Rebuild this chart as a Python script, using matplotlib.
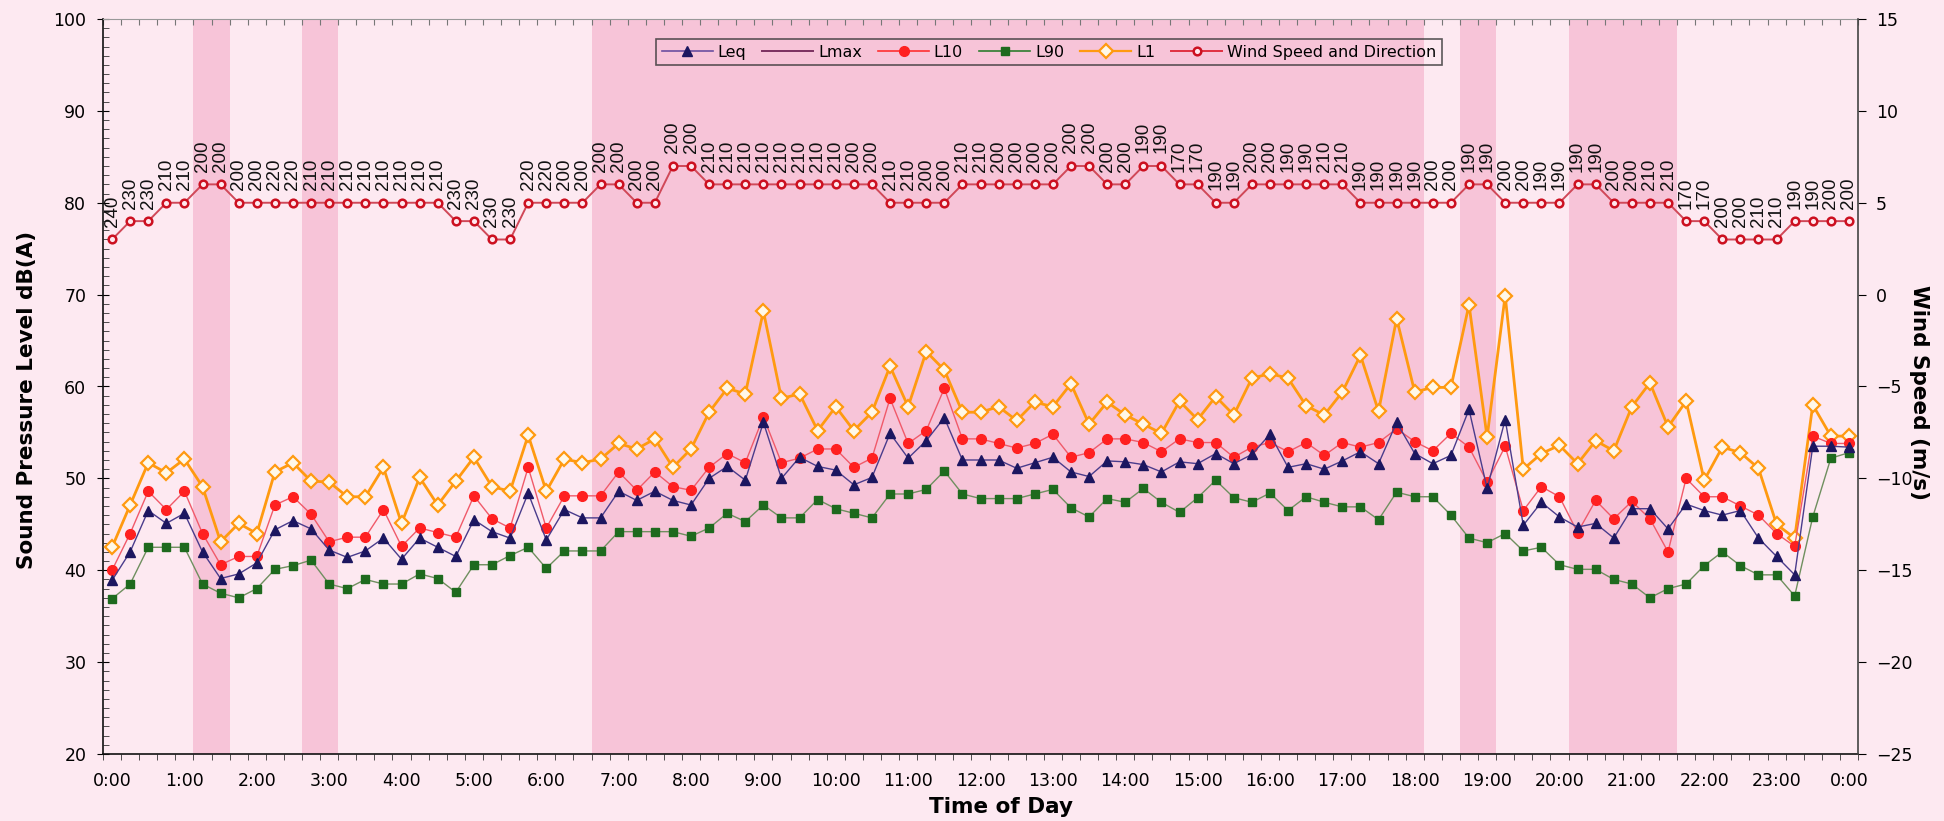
import numpy as np
import matplotlib
matplotlib.use("Agg")
import matplotlib.pyplot as plt

# 15-minute intervals, 0:00 .. 24:00 (97 points)
tick_labels = ["%d:00" % h for h in range(24)] + ["0:00"]

leq = [38.9, 42.0, 46.5, 45.1, 46.2, 42.0, 39.1, 39.6, 40.8, 44.4, 45.4, 44.5, 42.2, 41.4, 42.1, 43.5,
       41.2, 43.5, 42.5, 41.5, 45.5, 44.2, 43.5, 48.4, 43.3, 46.6, 45.7, 45.7, 48.6, 47.6, 48.6, 47.6,
       47.1, 50.0, 51.3, 49.8, 56.1, 50.0, 52.3, 51.3, 50.9, 49.3, 50.1, 54.9, 52.2, 54.1, 56.6, 52.0,
       52.0, 52.0, 51.1, 51.7, 52.3, 50.7, 50.2, 51.9, 51.8, 51.5, 50.7, 51.8, 51.6, 52.7, 51.6, 52.6,
       54.8, 51.2, 51.6, 51.0, 51.9, 52.9, 51.6, 56.1, 52.7, 51.6, 52.5, 57.5, 48.9, 56.4, 44.9, 47.4,
       45.8, 44.7, 45.1, 43.5, 46.7, 46.7, 44.5, 47.2, 46.5, 46.0, 46.5, 43.5, 41.5, 39.5, 53.5, 53.5,
       53.4]
l10 = [40.0, 44.0, 48.6, 46.6, 48.6, 44.0, 40.6, 41.5, 41.5, 47.1, 48.0, 46.1, 43.1, 43.6, 43.6, 46.6,
       42.6, 44.6, 44.1, 43.6, 48.1, 45.6, 44.6, 51.2, 44.6, 48.1, 48.1, 48.1, 50.7, 48.7, 50.7, 49.1,
       48.7, 51.2, 52.7, 51.7, 56.7, 51.7, 52.2, 53.2, 53.2, 51.2, 52.2, 58.7, 53.8, 55.2, 59.8, 54.3,
       54.3, 53.8, 53.3, 53.8, 54.8, 52.3, 52.8, 54.3, 54.3, 53.9, 52.9, 54.3, 53.9, 53.9, 52.3, 53.4,
       53.9, 52.9, 53.9, 52.5, 53.9, 53.4, 53.9, 55.4, 54.0, 53.0, 54.9, 53.4, 49.6, 53.5, 46.5, 49.1,
       48.0, 44.1, 47.6, 45.6, 47.5, 45.6, 42.0, 50.0, 48.0, 48.0, 47.0, 46.0, 44.0, 42.6, 54.6, 53.8,
       53.8]
l90 = [36.9, 38.5, 42.5, 42.5, 42.5, 38.5, 37.5, 37.0, 38.0, 40.1, 40.5, 41.1, 38.5, 38.0, 39.0, 38.5,
       38.5, 39.6, 39.1, 37.6, 40.6, 40.6, 41.6, 42.5, 40.2, 42.1, 42.1, 42.1, 44.2, 44.2, 44.2, 44.2,
       43.7, 44.6, 46.2, 45.3, 47.1, 45.7, 45.7, 47.7, 46.7, 46.2, 45.7, 48.3, 48.3, 48.8, 50.8, 48.3,
       47.8, 47.8, 47.8, 48.3, 48.8, 46.8, 45.8, 47.8, 47.4, 48.9, 47.4, 46.3, 47.9, 49.8, 47.9, 47.4,
       48.4, 46.5, 48.0, 47.4, 46.9, 46.9, 45.5, 48.5, 48.0, 48.0, 46.0, 43.5, 43.0, 44.0, 42.1, 42.5,
       40.6, 40.1, 40.1, 39.0, 38.5, 37.0, 38.0, 38.5, 40.5, 42.0, 40.5, 39.5, 39.5, 37.2, 45.8, 52.2,
       52.8]
l1 = [42.5, 47.1, 51.7, 50.6, 52.1, 49.1, 43.1, 45.1, 44.0, 50.7, 51.7, 49.7, 49.6, 48.0, 48.0, 51.2,
      45.1, 50.1, 47.1, 49.7, 52.3, 49.1, 48.6, 54.7, 48.6, 52.1, 51.7, 52.1, 53.8, 53.2, 54.3, 51.2,
      53.2, 57.2, 59.8, 59.2, 68.2, 58.7, 59.2, 55.2, 57.8, 55.2, 57.2, 62.2, 57.8, 63.8, 61.8, 57.2,
      57.2, 57.8, 56.3, 58.3, 57.8, 60.3, 55.9, 58.3, 56.9, 55.9, 54.9, 58.4, 56.4, 58.9, 56.9, 60.9,
      61.4, 60.9, 57.9, 56.9, 59.4, 63.4, 57.3, 67.4, 59.4, 59.9, 59.9, 68.9, 54.5, 69.9, 51.0, 52.7,
      53.6, 51.6, 54.1, 53.0, 57.8, 60.4, 55.6, 58.4, 49.8, 53.4, 52.8, 51.1, 45.0, 43.5, 58.0, 54.6,
      54.6]
wind_speed = [3, 4, 4, 5, 5, 6, 6, 5, 5, 5, 5, 5, 5, 5, 5, 5, 5, 5, 5, 4, 4, 3, 3, 5, 5, 5, 5,
              6, 6, 5, 5, 7, 7, 6, 6, 6, 6, 6, 6, 6, 6, 6, 6, 5, 5, 5, 5, 6, 6, 6, 6, 6, 6, 7, 7,
              6, 6, 7, 7, 6, 6, 5, 5, 6, 6, 6, 6, 6, 6, 5, 5, 5, 5, 5, 5, 6, 6, 5, 5, 5, 5, 6, 6,
              5, 5, 5, 5, 4, 4, 3, 3, 3, 3, 4, 4, 4, 4]
wind_dir = [240, 230, 230, 210, 210, 200, 200, 200, 200, 220, 220, 210, 210, 210, 210, 210, 210, 210,
            210, 230, 230, 230, 230, 220, 220, 200, 200,
            200, 200, 200, 200, 200, 200, 210, 210, 210, 210, 210, 210, 210, 210, 200, 200, 210, 210,
            200, 200, 210, 210, 200, 200, 200, 200, 200, 200,
            200, 200, 190, 190, 170, 170, 190, 190, 200, 200, 190, 190, 210, 210, 190, 190, 190, 190,
            200, 200, 190, 190, 200, 200, 190, 190, 190, 190, 200, 200, 210, 210, 170, 170, 200, 200,
            210, 210, 190, 190, 200, 200]

# shaded periods (first and last interval index)
band_start = [5, 11, 27, 75, 81]
band_end = [6, 12, 72, 76, 86]

bg = "#FDE9F1"
fig = plt.figure(figsize=(19.44, 8.21), dpi=100, facecolor=bg)
ax = fig.add_axes([103 / 1944, 1 - 754 / 821, 1755 / 1944, 735 / 821])
ax.set_facecolor(bg)

x = np.arange(len(leq))
for s, e in zip(band_start, band_end):
    ax.axvspan(s - 0.5, e + 0.5, color="#F7C4D8", lw=0, zorder=0)

ax.plot(x, l90, color="#6F8F5F", lw=1.0, marker="s", ms=6, mfc="#1E6A1E", mec="#1E6A1E", zorder=3)
ax.plot(x, l1, color="#FF9A10", lw=2.0, marker="D", ms=7.5, mfc="#FFF8E8", mec="#FF9A10", mew=1.6, zorder=4)
ax.plot(x, l10, color="#F05A6A", lw=1.0, marker="o", ms=7, mfc="#FF2020", mec="#FF2020", zorder=5)
ax.plot(x, leq, color="#4A3C8C", lw=1.0, marker="^", ms=7, mfc="#1C1660", mec="#1C1660", zorder=6)

ax.set_xlim(-0.5, len(x) - 0.5)
ax.set_ylim(20, 100)
ax.set_xticks(x[::4])
ax.set_xticklabels(tick_labels)
ax.set_xticks(np.arange(-0.5, len(x), 1), minor=True)
ax.set_yticks(np.arange(20, 101, 10))
ax.set_yticks(np.arange(20, 101, 1), minor=True)
ax.tick_params(axis="x", which="major", length=0, pad=13, labelsize=12.5)
ax.tick_params(axis="x", which="minor", length=4, direction="out", color="#333333")
ax.tick_params(axis="y", which="major", length=8, direction="inout", pad=8, labelsize=12.5)
ax.tick_params(axis="y", which="minor", length=4, direction="in", color="#333333")
for side in ["left", "bottom"]:
    ax.spines[side].set_color("#111111")
    ax.spines[side].set_linewidth(1.2)
ax.spines["top"].set_color("#999999")
ax.spines["right"].set_visible(False)

top = ax.secondary_xaxis("top")
top.set_xticks(np.arange(-0.5, len(x), 1))
top.tick_params(direction="in", length=4, labeltop=False, color="#777777")
top.spines["top"].set_visible(False)

ax2 = ax.twinx()
ax2.set_ylim(-25, 15)
ax2.set_yticks(np.arange(-25, 16, 5))
ax2.tick_params(axis="y", length=6, direction="out", pad=7, labelsize=12.5)
ax2.spines["right"].set_color("#444444")
ax2.spines["right"].set_linewidth(1.2)
for side in ["left", "top", "bottom"]:
    ax2.spines[side].set_visible(False)
ax2.plot(x, wind_speed, color="#D04858", lw=1.4, marker="o", ms=5.5, mfc="#FFE8EE", mec="#CC1020",
         mew=1.8, zorder=5)
for xi, ws, wd in zip(x, wind_speed, wind_dir):
    ax2.annotate(str(wd), (xi, ws), xytext=(0, 9), textcoords="offset points", rotation=90,
                 ha="center", va="bottom", fontsize=13.5, family=["Liberation Sans", "DejaVu Sans"],
                 color="#111111")

fig.text(27 / 1944, 1 - 400 / 821, "Sound Pressure Level dB(A)", rotation=90, ha="center", va="center",
         fontsize=15.5, fontweight="bold")
fig.text(1919 / 1944, 1 - 392 / 821, "Wind Speed (m/s)", rotation=270, ha="center", va="center",
         fontsize=15.5, fontweight="bold")
fig.text(1001 / 1944, 1 - 807 / 821, "Time of Day", ha="center", va="center", fontsize=15.5,
         fontweight="bold")

handles = [
    plt.Line2D([], [], color="#6B4FA0", lw=1.2, marker="^", ms=7, mfc="#1C1660", mec="#1C1660"),
    plt.Line2D([], [], color="#7B3060", lw=1.4),
    plt.Line2D([], [], color="#FF3030", lw=1.2, marker="o", ms=7, mfc="#FF2020", mec="#FF2020"),
    plt.Line2D([], [], color="#2E7D2E", lw=1.2, marker="s", ms=6, mfc="#1E6A1E", mec="#1E6A1E"),
    plt.Line2D([], [], color="#FF9A10", lw=1.6, marker="D", ms=7.5, mfc="#FFF8E8", mec="#FF9A10", mew=1.6),
    plt.Line2D([], [], color="#E03040", lw=1.4, marker="o", ms=5.5, mfc="#FFE8EE", mec="#CC1020", mew=1.8),
]
names = ["Leq", "Lmax", "L10", "L90", "L1", "Wind Speed and Direction"]
leg = ax2.legend(handles, names, ncol=6, loc="upper left", bbox_to_anchor=(648 / 1944, 1 - 31 / 821),
                 bbox_transform=fig.transFigure, fontsize=11.5, handlelength=3.2, handletextpad=0.3,
                 columnspacing=1.0, borderpad=0.35, frameon=True, fancybox=False)
leg.get_frame().set_facecolor("none")
leg.get_frame().set_edgecolor("#333333")
leg.get_frame().set_linewidth(1.2)

fig.savefig("out.png", dpi=100, facecolor=bg)
